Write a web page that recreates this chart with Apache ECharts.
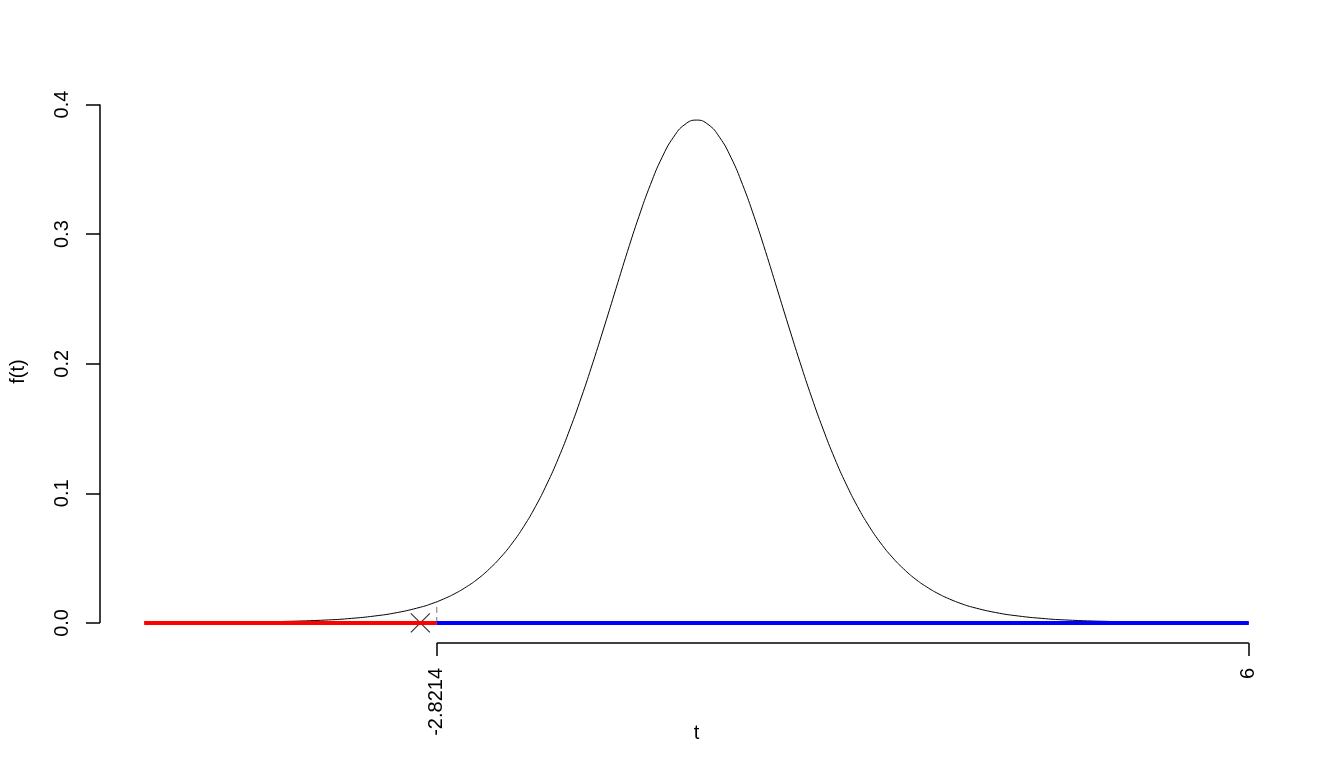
<!DOCTYPE html>
<html>
<head>
<meta charset="utf-8">
<script src="https://cdn.jsdelivr.net/npm/echarts@6/dist/echarts.min.js"></script>
<style>
  html, body { margin: 0; padding: 0; background: #fff; }
  #main { width: 1344px; height: 768px; }
</style>
</head>
<body>
<div id="main"></div>
<script>
// t values and density
var tValues = [-6, -5.5, -5, -4.5, -4, -3.75, -3.5, -3.25, -3, -2.875, -2.75, -2.625, -2.5, -2.375, -2.25, -2.125, -2, -1.875,
  -1.75, -1.625, -1.5, -1.375, -1.25, -1.125, -1, -0.875, -0.75, -0.625, -0.5, -0.375, -0.25, -0.125,
  0, 0.125, 0.25, 0.375, 0.5, 0.625, 0.75, 0.875, 1, 1.125, 1.25, 1.375, 1.5, 1.625, 1.75, 1.875,
  2, 2.125, 2.25, 2.375, 2.5, 2.625, 2.75, 2.875, 3, 3.25, 3.5, 3.75, 4, 4.5, 5, 5.5, 6];
var density = [0.0001, 0.0002, 0.0005, 0.0011, 0.0023, 0.0035, 0.0053, 0.0080, 0.0121, 0.0149, 0.0184, 0.0226, 0.0278, 0.0340, 0.0417, 0.0508, 0.0617, 0.0746,
  0.0897, 0.1072, 0.1271, 0.1496, 0.1743, 0.2010, 0.2291, 0.2579, 0.2866, 0.3137, 0.3383, 0.3591, 0.3748, 0.3847,
  0.3880, 0.3847, 0.3748, 0.3591, 0.3383, 0.3137, 0.2866, 0.2579, 0.2291, 0.2010, 0.1743, 0.1496, 0.1271, 0.1072, 0.0897, 0.0746,
  0.0617, 0.0508, 0.0417, 0.0340, 0.0278, 0.0226, 0.0184, 0.0149, 0.0121, 0.0080, 0.0053, 0.0035, 0.0023, 0.0011, 0.0005, 0.0002, 0.0001];

var critValue = -2.8214;
var critDensity = 0.0163;
var tStat = -3.0;
var tMin = -6, tMax = 6;
var xTicks = [critValue, 6];
var yTicks = [0, 0.1, 0.2, 0.3, 0.4];

var xLo = -6.48, xHi = 6.48;
var yLo = -0.0155, yHi = 0.4035;
var font = 'Liberation Sans, Arial, sans-serif';

var myChart = echarts.init(document.getElementById('main'));
myChart.setOption({
    backgroundColor: '#fff',
    animation: false,
    grid: { left: 100, right: 51, top: 100, bottom: 125 },
    xAxis: {
        type: 'value',
        min: xLo, max: xHi,
        name: 't',
        nameLocation: 'middle',
        nameGap: 80,
        nameMoveOverlap: false,
        nameTextStyle: { color: '#000', fontSize: 20, fontFamily: font },
        axisLine: { show: false, onZero: false },
        splitLine: { show: false },
        axisTick: { show: true, length: 13, customValues: xTicks, lineStyle: { color: '#000', width: 1.5 } },
        axisLabel: {
            customValues: xTicks, rotate: 90, margin: 25,
            color: '#000', fontSize: 20, fontFamily: font,
            formatter: function (v) { return String(v); }
        }
    },
    yAxis: {
        type: 'value',
        min: yLo, max: yHi,
        name: 'f(t)',
        nameLocation: 'middle',
        nameGap: 72,
        nameMoveOverlap: false,
        nameTextStyle: { color: '#000', fontSize: 20, fontFamily: font },
        axisLine: { show: false, onZero: false },
        splitLine: { show: false },
        axisTick: { show: true, length: 14, customValues: yTicks, lineStyle: { color: '#000', width: 1.5 } },
        axisLabel: {
            customValues: yTicks, rotate: 90, margin: 28,
            color: '#000', fontSize: 20, fontFamily: font,
            formatter: function (v) { return v.toFixed(1); }
        }
    },
    series: [
        {
            // y axis line, ticks span only
            type: 'line', silent: true, showSymbol: false, clip: false,
            data: [[xLo, yTicks[0]], [xLo, yTicks[yTicks.length - 1]]],
            lineStyle: { color: '#000', width: 1.5 }
        },
        {
            // x axis line
            type: 'line', silent: true, showSymbol: false, clip: false,
            data: [[xTicks[0], yLo], [xTicks[1], yLo]],
            lineStyle: { color: '#000', width: 1.5 }
        },
        {
            name: 'density',
            type: 'line', smooth: true, showSymbol: false,
            data: tValues.map(function (t, i) { return [t, density[i]]; }),
            lineStyle: { color: '#000', width: 1 }
        },
        {
            type: 'line', showSymbol: false,
            data: [[critValue, 0], [critValue, critDensity]],
            lineStyle: { color: '#777', width: 1, type: [6, 4] }
        },
        {
            type: 'line', showSymbol: false,
            data: [[tMin, 0], [critValue, 0]],
            lineStyle: { color: '#ff0000', width: 4 }
        },
        {
            type: 'line', showSymbol: false,
            data: [[critValue, 0], [tMax, 0]],
            lineStyle: { color: '#0000ff', width: 4 }
        },
        {
            type: 'scatter',
            data: [[tStat, 0]],
            symbol: 'path://M0,0L10,10M10,0L0,10',
            symbolSize: 19,
            itemStyle: { color: 'none', borderColor: '#000', borderWidth: 1.2 }
        }
    ]
});
</script>
</body>
</html>
